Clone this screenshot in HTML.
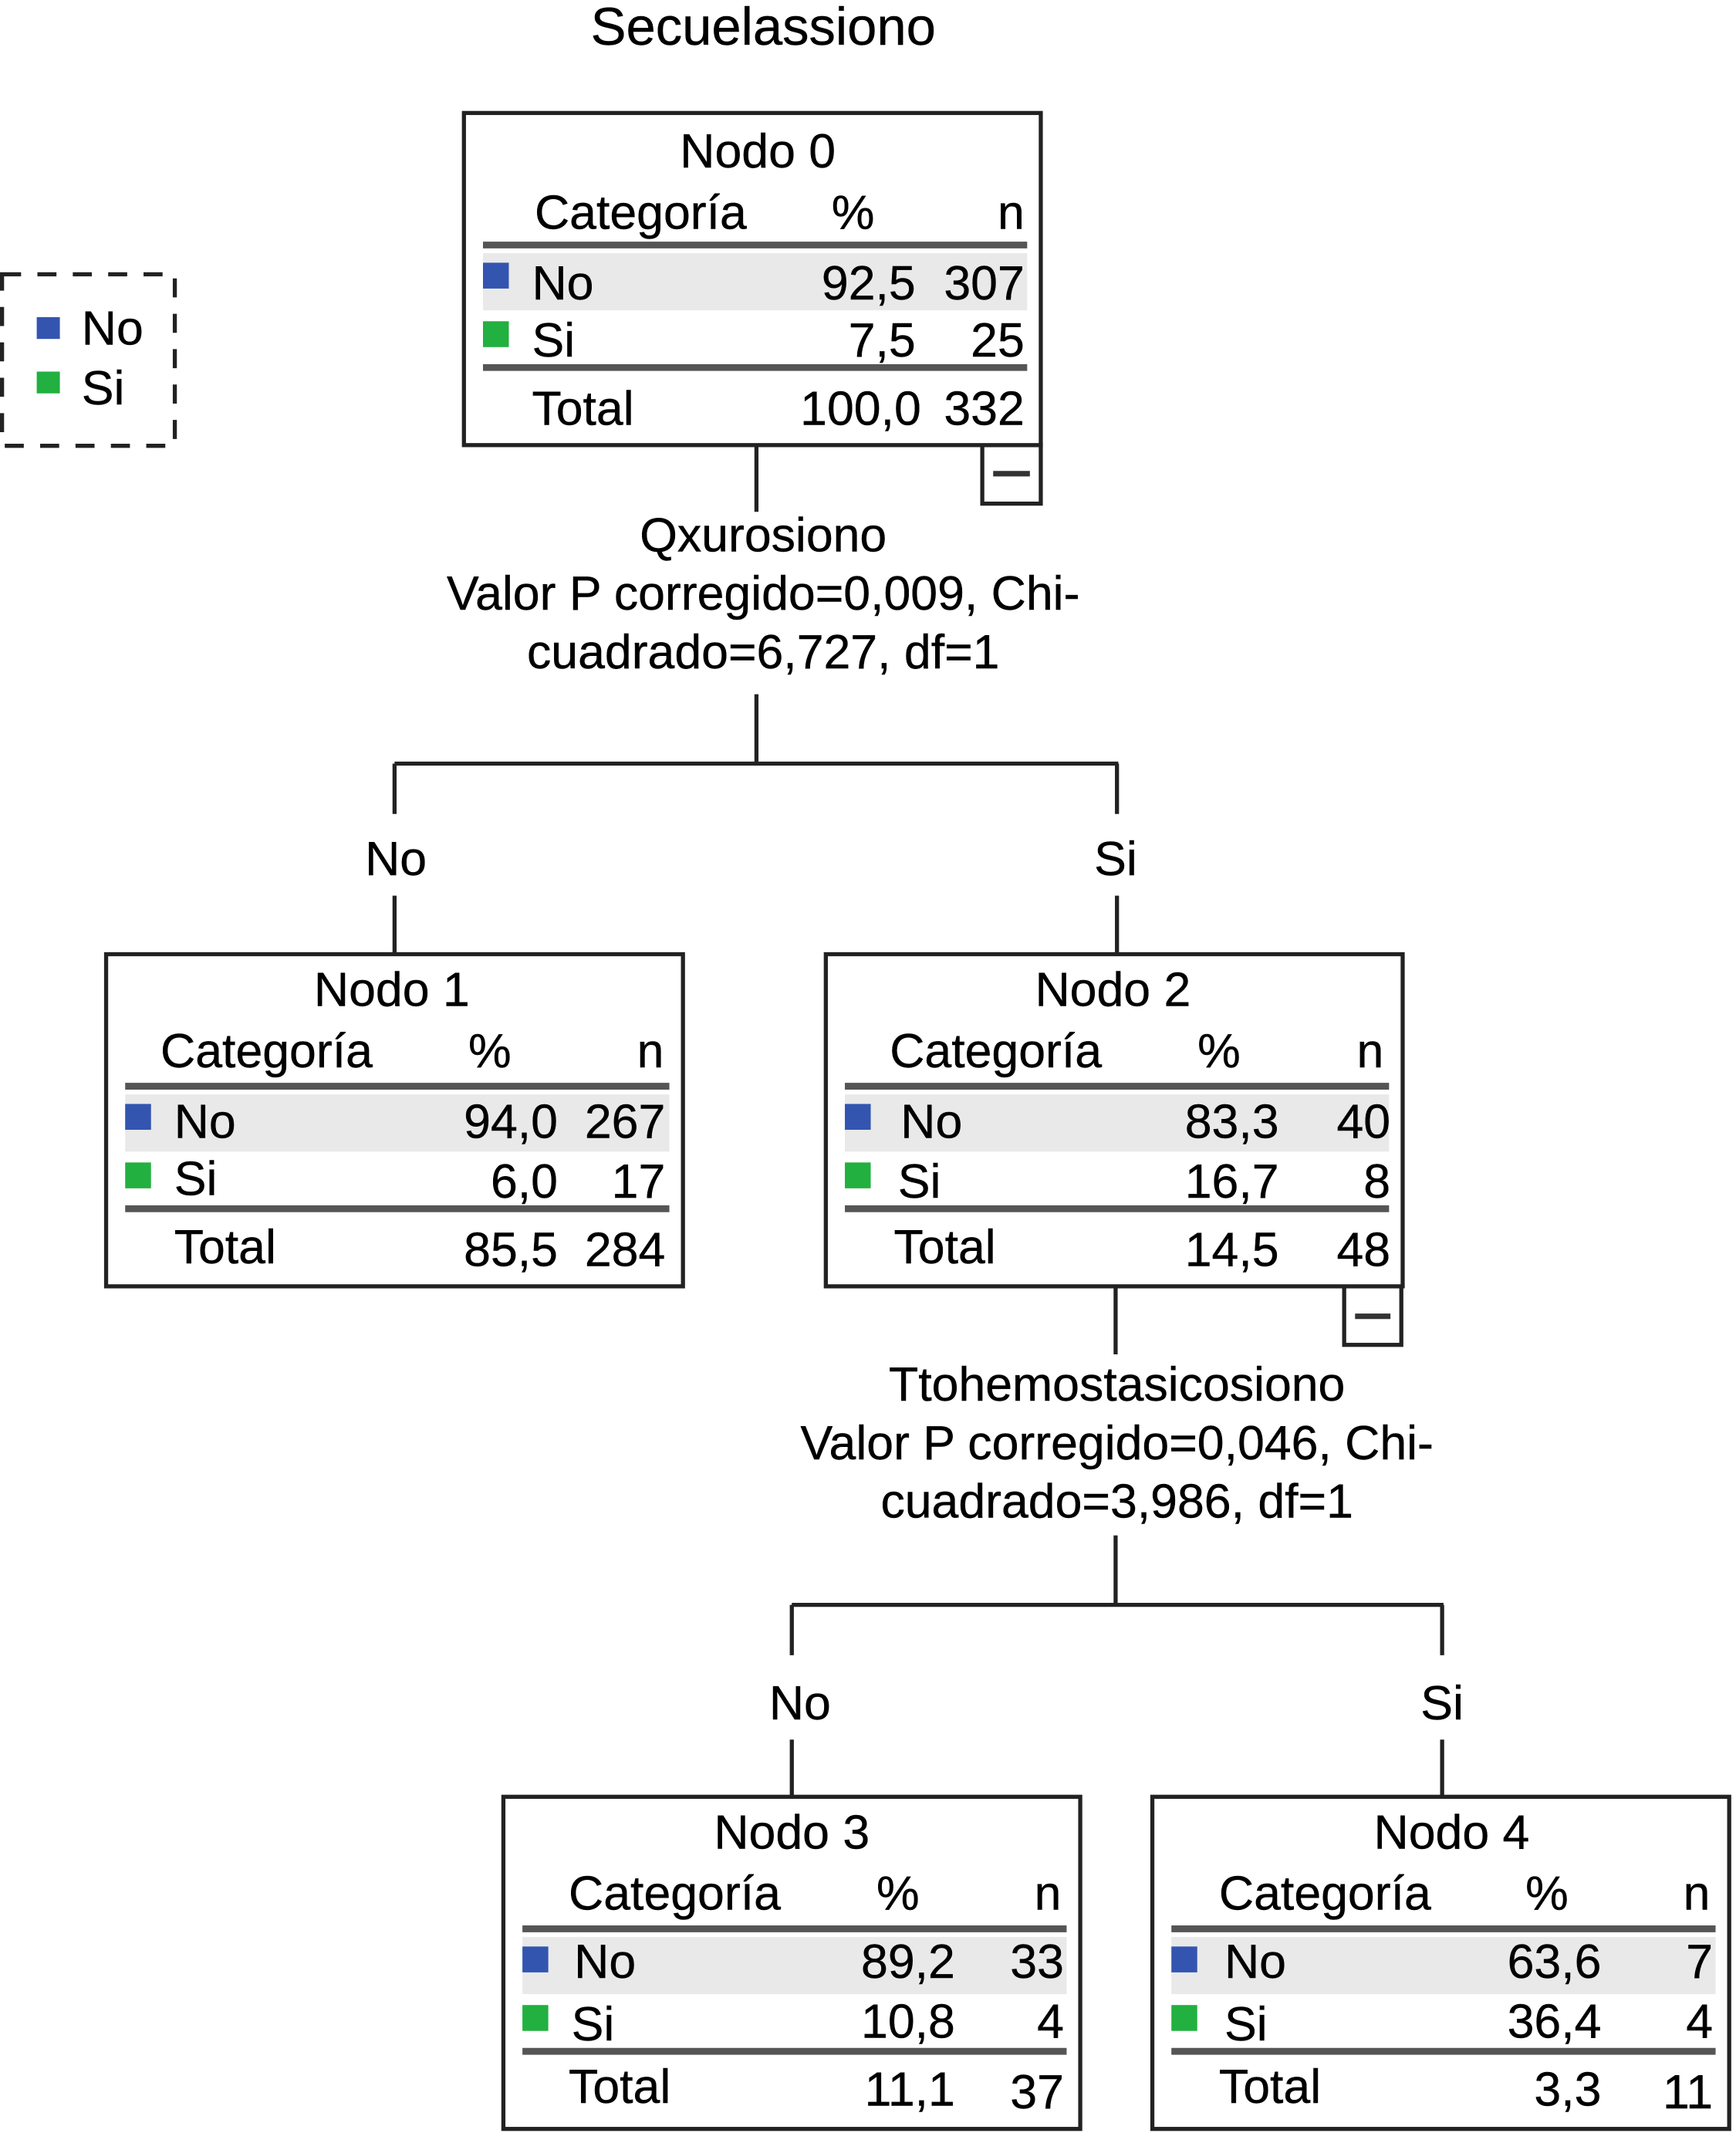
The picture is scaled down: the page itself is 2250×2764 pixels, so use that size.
<!DOCTYPE html>
<html><head><meta charset="utf-8"><style>
html,body{margin:0;padding:0;background:#fff}
svg{display:block}
text{font-family:"Liberation Sans",Arial,sans-serif;font-size:35.5px;fill:#000;stroke:#000;stroke-width:0.25}
.m{text-anchor:middle}.e{text-anchor:end}
</style></head><body>
<svg width="2250" height="2764" viewBox="0 0 1276 1567" preserveAspectRatio="none" xmlns="http://www.w3.org/2000/svg">
<defs>
<g id="frame">
<rect x="0" y="0" width="424" height="244" fill="#fff" stroke="#222" stroke-width="3"/>
<line x1="14" y1="97" x2="414" y2="97" stroke="#555" stroke-width="5"/>
<rect x="14" y="103" width="400" height="42" fill="#e9e9e9"/>
<rect x="14" y="110" width="19" height="19" fill="#3355b0"/>
<rect x="14" y="153" width="19" height="19" fill="#22b040"/>
<line x1="14" y1="187" x2="414" y2="187" stroke="#555" stroke-width="5"/>
</g>
</defs>
<text class="m" x="561" y="33" style="font-size:39px">Secuelassiono</text>

<rect x="1.5" y="201.5" width="127" height="126" fill="none" stroke="#222" stroke-width="3" stroke-dasharray="14,12"/>
<rect x="27" y="233" width="17" height="16" fill="#3355b0"/>
<rect x="27" y="273" width="17" height="16" fill="#22b040"/>
<text x="60" y="253">No</text>
<text x="60" y="297">Si</text>

<g stroke="#222" stroke-width="3" fill="none">
<line x1="556" y1="327" x2="556" y2="376"/>
<line x1="556" y1="510" x2="556" y2="561"/>
<line x1="290" y1="561" x2="822" y2="561"/>
<line x1="290" y1="561" x2="290" y2="598"/>
<line x1="821" y1="561" x2="821" y2="598"/>
<line x1="290" y1="658" x2="290" y2="701"/>
<line x1="821" y1="658" x2="821" y2="701"/>
<line x1="820" y1="945" x2="820" y2="995"/>
<line x1="820" y1="1128" x2="820" y2="1179"/>
<line x1="582" y1="1179" x2="1061" y2="1179"/>
<line x1="582" y1="1179" x2="582" y2="1216"/>
<line x1="1060" y1="1179" x2="1060" y2="1216"/>
<line x1="582" y1="1278" x2="582" y2="1320"/>
<line x1="1060" y1="1278" x2="1060" y2="1320"/>
<rect x="722" y="327" width="43" height="43" fill="#fff"/>
<rect x="988" y="945" width="42" height="43" fill="#fff"/>
</g>
<line x1="730" y1="348" x2="757" y2="348" stroke="#333" stroke-width="4"/>
<line x1="996" y1="967" x2="1022" y2="967" stroke="#333" stroke-width="4"/>

<text class="m" x="561" y="405">Qxurosiono</text>
<text class="m" x="561" y="448">Valor P corregido=0,009, Chi-</text>
<text class="m" x="561" y="491">cuadrado=6,727, df=1</text>
<text class="m" x="291" y="643">No</text>
<text class="m" x="820" y="643">Si</text>

<text class="m" x="821" y="1029">Ttohemostasicosiono</text>
<text class="m" x="821" y="1072">Valor P corregido=0,046, Chi-</text>
<text class="m" x="821" y="1115">cuadrado=3,986, df=1</text>
<text class="m" x="588" y="1263">No</text>
<text class="m" x="1060" y="1263">Si</text>

<g transform="translate(341,83)">
<use href="#frame"/>
<text class="m" x="216" y="40">Nodo 0</text>
<text x="52" y="85">Categoría</text><text class="m" x="286" y="85">%</text><text class="e" x="412" y="85">n</text>
<text x="50" y="137">No</text><text class="e" x="332" y="137">92,5</text><text class="e" x="412" y="137">307</text>
<text x="50" y="179">Si</text><text class="e" x="332" y="179">7,5</text><text class="e" x="412" y="179">25</text>
<text x="50" y="229">Total</text><text class="e" x="336" y="229">100,0</text><text class="e" x="412" y="229">332</text>
</g>
<g transform="translate(78,701)">
<use href="#frame"/>
<text class="m" x="210" y="38">Nodo 1</text>
<text x="40" y="83">Categoría</text><text class="m" x="282" y="83">%</text><text class="e" x="410" y="83">n</text>
<text x="50" y="135">No</text><text class="e" x="332" y="135">94,0</text><text class="e" x="411" y="135">267</text>
<text x="50" y="177">Si</text><text class="e" x="332" y="179">6,0</text><text class="e" x="411" y="179">17</text>
<text x="50" y="227">Total</text><text class="e" x="332" y="229">85,5</text><text class="e" x="411" y="229">284</text>
</g>
<g transform="translate(607,701)">
<use href="#frame"/>
<text class="m" x="211" y="38">Nodo 2</text>
<text x="47" y="83">Categoría</text><text class="m" x="289" y="83">%</text><text class="e" x="410" y="83">n</text>
<text x="55" y="135">No</text><text class="e" x="333" y="135">83,3</text><text class="e" x="415" y="135">40</text>
<text x="53" y="179">Si</text><text class="e" x="333" y="179">16,7</text><text class="e" x="415" y="179">8</text>
<text x="50" y="227">Total</text><text class="e" x="333" y="229">14,5</text><text class="e" x="415" y="229">48</text>
</g>
<g transform="translate(370,1320)">
<use href="#frame"/>
<text class="m" x="212" y="38">Nodo 3</text>
<text x="48" y="83">Categoría</text><text class="m" x="290" y="83">%</text><text class="e" x="410" y="83">n</text>
<text x="52" y="133">No</text><text class="e" x="332" y="133">89,2</text><text class="e" x="412" y="133">33</text>
<text x="50" y="179">Si</text><text class="e" x="332" y="177">10,8</text><text class="e" x="412" y="177">4</text>
<text x="48" y="225">Total</text><text class="e" x="332" y="227">11,1</text><text class="e" x="412" y="229">37</text>
</g>
<g transform="translate(847,1320)">
<use href="#frame"/>
<text class="m" x="220" y="38">Nodo 4</text>
<text x="49" y="83">Categoría</text><text class="m" x="290" y="83">%</text><text class="e" x="410" y="83">n</text>
<text x="53" y="133">No</text><text class="e" x="330" y="133">63,6</text><text class="e" x="412" y="133">7</text>
<text x="53" y="179">Si</text><text class="e" x="330" y="177">36,4</text><text class="e" x="412" y="177">4</text>
<text x="49" y="225">Total</text><text class="e" x="330" y="227">3,3</text><text class="e" x="412" y="229">11</text>
</g>
</svg>
</body></html>
